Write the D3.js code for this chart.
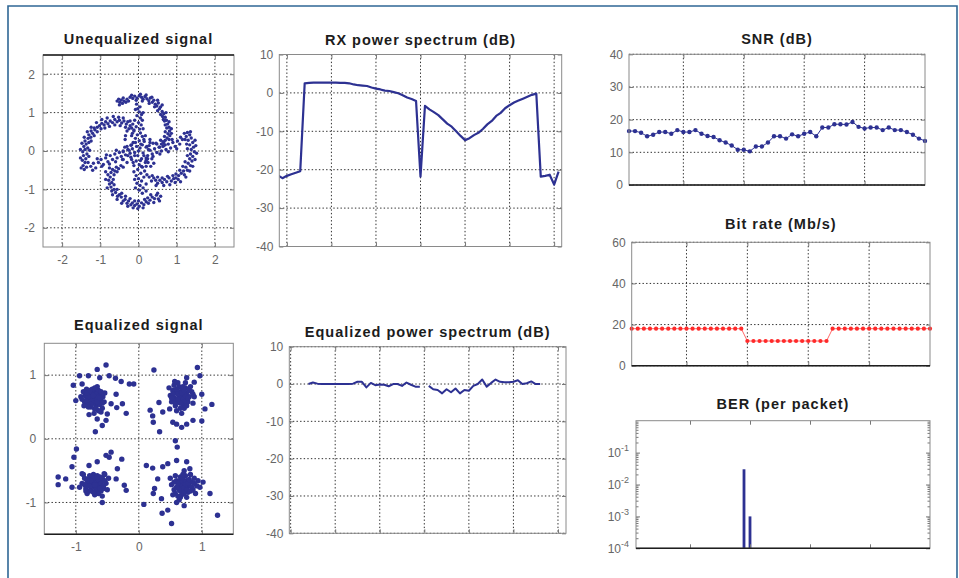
<!DOCTYPE html>
<html>
<head>
<meta charset="utf-8">
<script src="https://cdn.jsdelivr.net/npm/d3@7"></script>
<style>
  body { margin: 0; background: #fff; }
  svg { display: block; font-family: "Liberation Sans", Arial, sans-serif; }
</style>
</head>
<body>
<svg id="chart" width="959" height="578"></svg>
<script>
// ── data ──

// unequalized constellation (I, Q): four spiral arms + centre
const rawIQ = [
  // top arm
  [-0.56,1.30],[-0.52,1.35],[-0.49,1.27],[-0.45,1.33],[-0.42,1.24],[-0.38,1.30],[-0.33,1.27],[-0.30,1.35],
  [-0.22,1.40],[-0.15,1.37],[-0.10,1.43],[-0.04,1.38],[0.02,1.44],[0.08,1.40],[0.12,1.35],[0.17,1.42],
  [0.22,1.36],[0.27,1.31],[0.31,1.38],[0.36,1.27],[0.40,1.32],[0.44,1.22],[0.48,1.17],[0.52,1.25],
  [0.55,1.10],[0.58,1.15],[0.62,1.03],[0.66,0.97],[0.63,0.90],[0.70,0.88],[0.73,0.80],[0.68,0.78],
  [0.76,0.70],[0.80,0.62],[0.74,0.60],[0.81,0.52],[0.77,0.45],[0.82,0.40],[0.75,0.34],[0.70,0.28],
  [0.66,0.22],[0.60,0.18],[0.64,0.12],[0.55,0.10],
  [-0.50,1.20],[-0.40,1.38],[-0.26,1.30],[-0.18,1.45],[-0.06,1.32],[0.05,1.48],[0.10,1.30],[0.20,1.46],
  [0.28,1.24],[0.35,1.40],[0.42,1.15],[0.50,1.32],[0.50,1.05],[0.62,1.20],[0.58,0.95],[0.72,1.00],
  [0.65,0.82],[0.80,0.76],[0.70,0.68],[0.86,0.58],[0.70,0.50],[0.86,0.46],[0.68,0.38],[0.80,0.30],
  [0.58,0.28],[0.70,0.16],[0.48,0.18],
  [-0.05,1.22],[0.04,1.15],[-0.08,1.08],[0.02,1.02],[0.08,0.95],[-0.04,0.92],[0.05,0.86],[-0.10,0.80],
  [0.00,0.74],[0.07,0.68],[-0.06,0.63],[0.03,0.57],[-0.12,0.52],[0.05,0.47],[-0.03,0.42],[0.10,0.38],
  [-0.08,0.33],[0.02,0.27],[-0.14,0.22],[0.06,0.18],
  [-0.02,1.10],[0.12,1.00],[0.10,0.80],[-0.15,0.70],[0.12,0.58],[-0.18,0.40],[0.14,0.30],
  // left arm
  [-1.42,-0.48],[-1.36,-0.42],[-1.45,-0.38],[-1.40,-0.30],[-1.47,-0.24],[-1.38,-0.20],[-1.44,-0.12],[-1.35,-0.08],
  [-1.46,-0.02],[-1.40,0.04],[-1.33,0.08],[-1.43,0.12],[-1.37,0.18],[-1.30,0.22],[-1.40,0.26],[-1.32,0.33],
  [-1.25,0.36],[-1.30,0.42],[-1.20,0.46],[-1.24,0.52],[-1.14,0.55],[-1.08,0.62],[-1.16,0.60],[-1.02,0.66],
  [-0.96,0.72],[-0.90,0.68],[-0.86,0.76],[-0.80,0.71],[-0.74,0.78],[-0.68,0.74],[-0.62,0.82],[-0.56,0.76],
  [-0.50,0.80],[-0.44,0.73],[-0.38,0.78],[-0.32,0.70],[-0.28,0.76],[-0.22,0.66],[-0.18,0.60],[-0.25,0.58],
  [-0.12,0.55],[-0.16,0.46],
  [-1.50,-0.44],[-1.32,-0.30],[-1.52,-0.18],[-1.30,-0.14],[-1.52,0.04],[-1.28,0.02],[-1.48,0.20],[-1.24,0.26],
  [-1.42,0.36],[-1.16,0.40],[-1.34,0.50],[-1.08,0.50],[-1.24,0.62],[-0.98,0.58],[-1.10,0.74],[-0.88,0.60],
  [-0.96,0.82],[-0.76,0.64],[-0.82,0.86],[-0.62,0.68],[-0.66,0.90],[-0.48,0.66],[-0.52,0.88],[-0.34,0.62],
  [-0.40,0.86],[-0.22,0.78],[-0.30,0.52],
  [-1.25,-0.40],[-1.18,-0.32],[-1.12,-0.44],[-1.05,-0.30],[-0.98,-0.22],[-0.92,-0.35],[-0.86,-0.18],[-0.80,-0.28],
  [-0.74,-0.12],[-0.68,-0.22],[-0.62,-0.08],[-0.56,-0.18],[-0.50,-0.04],[-0.45,-0.14],[-0.40,0.00],[-0.34,-0.10],
  [-0.28,0.04],[-0.22,-0.06],[-0.16,0.06],[-0.10,-0.04],
  [-1.20,-0.50],[-1.08,-0.20],[-0.96,-0.40],[-0.84,-0.10],[-0.76,-0.34],[-0.60,-0.28],[-0.58,0.02],[-0.42,-0.22],
  [-0.36,0.10],[-0.20,-0.16],[-0.18,0.16],
  // bottom arm
  [0.58,-1.18],[0.52,-1.25],[0.47,-1.15],[0.42,-1.24],[0.36,-1.20],[0.30,-1.28],[0.24,-1.22],[0.20,-1.32],
  [0.14,-1.40],[0.08,-1.35],[0.02,-1.44],[-0.04,-1.38],[-0.10,-1.42],[-0.16,-1.35],[-0.20,-1.40],[-0.26,-1.30],
  [-0.30,-1.36],[-0.35,-1.26],[-0.40,-1.30],[-0.45,-1.20],[-0.50,-1.14],[-0.55,-1.18],[-0.60,-1.08],[-0.64,-1.00],
  [-0.70,-1.04],[-0.72,-0.94],[-0.76,-0.86],[-0.70,-0.82],[-0.78,-0.76],[-0.74,-0.68],[-0.80,-0.62],[-0.72,-0.56],
  [-0.68,-0.48],[-0.62,-0.52],[-0.58,-0.42],[-0.52,-0.46],[-0.46,-0.38],[-0.40,-0.42],
  [0.55,-1.30],[0.50,-1.10],[0.40,-1.34],[0.32,-1.14],[0.26,-1.36],[0.16,-1.26],[0.12,-1.48],[0.00,-1.30],
  [-0.02,-1.50],[-0.10,-1.30],[-0.14,-1.48],[-0.22,-1.24],[-0.28,-1.44],[-0.34,-1.18],[-0.44,-1.36],[-0.44,-1.10],
  [-0.56,-1.26],[-0.56,-1.00],[-0.68,-1.14],[-0.64,-0.88],[-0.82,-0.96],[-0.66,-0.74],[-0.86,-0.74],[-0.64,-0.62],
  [-0.86,-0.54],[-0.76,-0.44],[-0.56,-0.54],
  [0.10,-1.10],[0.02,-1.02],[0.12,-0.96],[0.04,-0.90],[-0.04,-0.84],[0.08,-0.78],[0.00,-0.72],[0.14,-0.68],
  [-0.06,-0.64],[0.06,-0.58],[0.16,-0.52],[-0.02,-0.48],[0.10,-0.42],[0.02,-0.36],[0.18,-0.30],[-0.06,-0.26],
  [0.08,-0.20],[0.14,-0.12],
  [0.20,-1.04],[-0.08,-0.96],[0.20,-0.86],[-0.10,-0.74],[0.22,-0.62],[-0.12,-0.54],[0.20,-0.40],[-0.12,-0.38],
  [0.24,-0.20],
  // right arm
  [1.28,0.48],[1.34,0.42],[1.25,0.38],[1.38,0.34],[1.30,0.28],[1.42,0.22],[1.34,0.16],[1.44,0.10],
  [1.38,0.04],[1.46,-0.02],[1.36,-0.08],[1.42,-0.14],[1.34,-0.20],[1.40,-0.26],[1.30,-0.32],[1.36,-0.38],
  [1.24,-0.42],[1.28,-0.50],[1.18,-0.52],[1.12,-0.58],[1.20,-0.62],[1.05,-0.64],[0.98,-0.70],[1.04,-0.74],
  [0.92,-0.72],[0.86,-0.78],[0.80,-0.70],[0.74,-0.80],[0.68,-0.74],[0.62,-0.82],[0.56,-0.76],[0.50,-0.84],
  [0.45,-0.76],[0.40,-0.70],[0.34,-0.78],[0.28,-0.68],
  [1.20,0.46],[1.36,0.50],[1.22,0.30],[1.48,0.28],[1.26,0.18],[1.50,0.14],[1.28,0.06],[1.52,-0.06],
  [1.28,-0.12],[1.48,-0.22],[1.22,-0.28],[1.42,-0.40],[1.16,-0.40],[1.34,-0.52],[1.08,-0.50],[1.24,-0.68],
  [0.98,-0.60],[1.10,-0.80],[0.90,-0.64],[0.96,-0.82],[0.76,-0.66],[0.82,-0.88],[0.62,-0.70],[0.66,-0.90],
  [0.50,-0.68],[0.46,-0.90],[0.36,-0.64],
  [1.15,0.30],[1.08,0.18],[1.02,0.26],[0.96,0.12],[0.90,0.22],[0.84,0.08],[0.78,0.18],[0.72,0.04],
  [0.66,0.14],[0.60,0.00],[0.54,0.10],[0.48,-0.04],[0.42,0.06],[0.36,-0.08],[0.30,0.02],[0.24,-0.12],
  [0.20,0.10],[0.28,0.14],
  [1.10,0.36],[1.00,0.06],[0.88,0.30],[0.78,-0.02],[0.64,0.24],[0.56,-0.08],[0.46,0.20],[0.38,-0.14],
  [0.30,0.22],[0.20,-0.18],
  // centre
  [-0.20,0.15],[0.15,0.25],[-0.30,-0.30],[0.25,-0.30],[0.00,0.00],[-0.05,0.12],[0.12,-0.05],[-0.18,-0.22],
  [0.30,0.30],[-0.35,0.30],[0.35,-0.20],[-0.25,0.02],[0.05,-0.25],[0.22,0.12],[-0.10,-0.12],[0.10,0.16],
  [-0.30,0.12],[0.18,0.40],[-0.40,-0.22],[0.32,-0.40],[-0.08,0.22],[0.20,-0.24],[-0.28,-0.12],[0.38,0.20],
  [-0.02,-0.12],[0.04,0.08],[-0.14,-0.30],[0.26,0.04],[-0.34,0.40],[0.40,-0.32],[-0.40,-0.02],[0.08,-0.40]
];

// equalized constellation (I, Q): four QPSK clusters
const eqIQ = [
  // upper left
  [-0.72,0.66],[-0.78,0.70],[-0.66,0.62],[-0.70,0.74],[-0.82,0.62],[-0.62,0.70],[-0.75,0.58],[-0.68,0.52],
  [-0.85,0.68],[-0.60,0.60],[-0.74,0.78],[-0.80,0.55],[-0.64,0.76],[-0.88,0.74],[-0.57,0.66],[-0.70,0.47],
  [-0.76,0.50],[-0.92,0.66],[-0.66,0.82],[-0.54,0.72],[-0.83,0.78],[-0.62,0.54],[-0.78,0.64],[-0.69,0.60],
  [-0.73,0.71],[-0.58,0.48],[-0.86,0.58],[-0.64,0.44],[-0.71,0.40],[-0.55,0.58],
  [-0.70,0.64],[-0.76,0.68],[-0.68,0.70],[-0.80,0.66],[-0.74,0.60],[-0.64,0.66],[-0.72,0.56],[-0.66,0.58],
  [-0.82,0.72],[-0.60,0.74],[-0.78,0.76],[-0.70,0.80],[-0.84,0.60],[-0.62,0.64],[-0.76,0.54],[-0.68,0.48],
  [-0.90,0.62],[-0.58,0.56],[-0.72,0.68],[-0.80,0.50],
  [-0.94,0.99],[-0.80,0.99],[-0.66,1.09],[-0.52,1.16],[-0.62,0.96],[-0.47,0.99],[-0.37,0.95],[-0.28,0.90],
  [-0.15,0.86],[-0.08,0.86],[-1.04,0.84],[-0.90,0.86],[-0.36,0.70],[-0.44,0.55],[-0.26,0.55],[-0.20,0.40],
  [-0.35,0.49],[-0.52,0.29],[-0.58,0.21],[-0.69,0.11],[-0.79,0.38],[-0.87,0.52],[-1.00,0.60],[-0.60,0.42],
  [-0.50,0.39],[-0.66,0.31],
  // upper right
  [0.66,0.68],[0.60,0.72],[0.72,0.64],[0.68,0.76],[0.56,0.64],[0.76,0.72],[0.62,0.58],[0.70,0.54],
  [0.80,0.66],[0.54,0.76],[0.74,0.80],[0.64,0.82],[0.84,0.74],[0.50,0.68],[0.78,0.58],[0.58,0.52],
  [0.66,0.62],[0.70,0.70],[0.88,0.66],[0.62,0.88],[0.72,0.48],[0.52,0.58],[0.82,0.82],[0.60,0.44],
  [0.68,0.40],[0.48,0.80],[0.86,0.56],[0.64,0.72],[0.56,0.84],[0.74,0.88],
  [0.64,0.66],[0.70,0.62],[0.62,0.70],[0.74,0.68],[0.58,0.62],[0.68,0.72],[0.72,0.58],[0.60,0.78],
  [0.78,0.64],[0.66,0.56],[0.54,0.70],[0.80,0.76],[0.70,0.82],[0.58,0.56],[0.76,0.52],[0.66,0.48],
  [0.86,0.70],[0.52,0.64],[0.62,0.62],[0.72,0.76],
  [0.24,1.08],[0.93,1.12],[0.97,0.99],[0.76,0.96],[0.57,0.90],[0.88,0.89],[1.00,0.70],[1.16,0.54],
  [1.05,0.47],[1.00,0.28],[0.86,0.29],[0.76,0.23],[0.68,0.18],[0.60,0.23],[0.54,0.26],[0.32,0.57],
  [0.18,0.45],[0.22,0.36],[0.23,0.26],[0.33,0.11],[0.38,0.42],[0.49,0.47],[0.58,-0.03],[0.61,-0.13],
  // lower left
  [-0.68,-0.68],[-0.74,-0.64],[-0.62,-0.72],[-0.70,-0.76],[-0.80,-0.70],[-0.58,-0.64],[-0.66,-0.58],[-0.76,-0.80],
  [-0.60,-0.82],[-0.86,-0.62],[-0.52,-0.70],[-0.72,-0.56],[-0.84,-0.78],[-0.64,-0.86],[-0.56,-0.78],[-0.90,-0.70],
  [-0.78,-0.58],[-0.48,-0.62],[-0.70,-0.88],[-0.62,-0.60],[-0.82,-0.86],[-0.54,-0.56],[-0.74,-0.72],[-0.66,-0.78],
  [-0.94,-0.76],[-0.58,-0.90],[-0.80,-0.64],[-0.50,-0.80],[-0.88,-0.56],[-0.64,-0.66],
  [-0.70,-0.66],[-0.66,-0.72],[-0.74,-0.70],[-0.64,-0.64],[-0.72,-0.62],[-0.60,-0.70],[-0.78,-0.74],[-0.68,-0.80],
  [-0.76,-0.66],[-0.56,-0.74],[-0.82,-0.66],[-0.62,-0.78],[-0.72,-0.84],[-0.58,-0.62],[-0.86,-0.72],[-0.66,-0.60],
  [-0.78,-0.82],[-0.54,-0.66],[-0.70,-0.72],[-0.84,-0.82],
  [-0.99,-0.16],[-1.03,-0.29],[-1.28,-0.60],[-1.28,-0.72],[-1.16,-0.63],[-1.06,-0.44],[-1.06,-0.76],[-0.44,-0.21],
  [-0.47,-0.29],[-0.52,-0.26],[-0.27,-0.32],[-0.34,-0.47],[-0.36,-0.63],[-0.23,-0.73],[-0.20,-0.81],[-0.58,-1.00],
  [-0.66,-0.36],[-0.79,-0.42],[-0.55,-0.55],[-0.90,-0.55],
  // lower right
  [0.70,-0.70],[0.64,-0.74],[0.76,-0.66],[0.72,-0.78],[0.60,-0.66],[0.80,-0.74],[0.66,-0.60],[0.74,-0.58],
  [0.84,-0.68],[0.56,-0.80],[0.78,-0.84],[0.68,-0.88],[0.88,-0.62],[0.52,-0.72],[0.62,-0.90],[0.82,-0.56],
  [0.70,-0.64],[0.66,-0.82],[0.92,-0.74],[0.58,-0.58],[0.76,-0.92],[0.86,-0.80],[0.54,-0.88],[0.64,-0.96],
  [0.72,-0.50],[0.90,-0.86],[0.60,-1.00],[0.74,-0.76],[0.94,-0.66],[0.50,-0.62],
  [0.68,-0.72],[0.72,-0.68],[0.66,-0.66],[0.74,-0.72],[0.62,-0.70],[0.78,-0.70],[0.70,-0.78],[0.64,-0.80],
  [0.80,-0.64],[0.68,-0.62],[0.76,-0.80],[0.60,-0.76],[0.84,-0.76],[0.72,-0.86],[0.58,-0.86],[0.82,-0.82],
  [0.66,-0.92],[0.88,-0.70],[0.56,-0.68],[0.70,-0.56],
  [0.12,-0.42],[0.22,-0.46],[0.38,-0.44],[0.30,-0.63],[0.25,-0.78],[0.23,-0.86],[0.36,-0.94],[0.08,-1.03],
  [0.37,-1.17],[0.46,-1.12],[0.52,-1.33],[0.72,-1.05],[1.13,-0.86],[1.25,-1.20],[0.97,-0.76],[0.46,-0.39],
  [0.60,-0.34],[0.76,-0.36],[0.81,-0.47],[1.02,-0.68]
];

// received power spectrum per subcarrier (dB)
const rxSubcarrier = [-32,-31,-30,-29,-28,-27,-26,-25,-24,-23,-22,-21,-20,-19,-18,-17,-16,-15,-14,-13,-12,-11,
  -10,-9,-8,-7,-6,-5,-4,-3,-2,-1,0,1,2,3,4,5,6,7,8,9,10,11,12,13,14,15,16,17,18,19,20,21,22,23,24,25,26,27,28,29,30,31];
const rxPowerDb = [-21.5,-22.2,-21.6,-21.2,-20.8,-20.4,
  2.5,2.6,2.7,2.7,2.7,2.7,2.7,2.7,2.6,2.6,2.5,2.2,2.0,1.9,1.8,1.4,1.1,0.9,0.6,0.5,0.2,-0.1,-0.6,-1.2,-1.6,-2.1,
  -21.8,
  -3.4,-4.3,-5.0,-5.8,-6.9,-8.0,-8.8,-10.0,-11.2,-12.3,-11.8,-11.0,-10.4,-9.4,-8.2,-7.3,-6.0,-5.2,-4.0,-3.2,
  -2.5,-2.0,-1.5,-1.0,-0.5,-0.2,
  -21.8,-21.6,-21.3,-23.9,-20.5];

// equalized power spectrum (dB); DC subcarrier is empty
const eqSubcarrier = [-26,-25,-24,-23,-22,-21,-20,-19,-18,-17,-16,-15,-14,-13,-12,-11,-10,-9,-8,-7,-6,-5,-4,-3,-2,-1,
  0,1,2,3,4,5,6,7,8,9,10,11,12,13,14,15,16,17,18,19,20,21,22,23,24,25,26];
const eqPowerDb = [0.0,0.4,0.1,0.0,0.0,0.0,0.0,0.0,0.0,0.0,0.1,0.6,0.6,-0.9,0.3,-0.3,-0.1,-0.2,-0.6,0.0,0.0,-0.5,0.4,-0.2,-0.7,-0.7,
  null,
  -0.5,-1.4,-1.6,-2.5,-1.4,-2.2,-1.2,-2.5,-1.6,-1.8,-0.5,0.0,1.2,-0.7,0.3,1.2,0.6,0.5,0.5,0.6,1.0,0.0,0.2,0.7,0.0,0.0];

// per packet
const packet = [1,2,3,4,5,6,7,8,9,10,11,12,13,14,15,16,17,18,19,20,21,22,23,24,25,
  26,27,28,29,30,31,32,33,34,35,36,37,38,39,40,41,42,43,44,45,46,47,48,49,50];
const snrDb = [16.5,16.5,16.0,14.9,15.4,16.2,16.2,15.7,16.8,16.2,16.2,16.8,15.7,15.0,14.7,13.7,13.0,12.1,10.8,10.8,
  10.3,11.8,11.8,13.0,14.9,14.9,14.2,15.5,14.9,15.7,16.2,14.9,17.6,17.6,18.6,18.6,18.5,19.3,17.8,17.3,
  17.6,17.6,16.8,17.6,16.8,16.8,16.2,15.4,14.2,13.5];
const bitRate = [18,18,18,18,18,18,18,18,18,18,18,18,18,18,18,18,18,18,18,
  12,12,12,12,12,12,12,12,12,12,12,12,12,12,
  18,18,18,18,18,18,18,18,18,18,18,18,18,18,18,18,18];
const berPacket = [19, 20];
const berValue = [0.03, 0.001];

// tick values
const iqTicksWide = [-2, -1, 0, 1, 2];
const iqTicksNarrow = [-1, 0, 1];
const dbTicks = [10, 0, -10, -20, -30, -40];
const subcarrierTicks = [-30, -20, -10, 0, 10, 20, 30];
const packetTicks = [10, 20, 30, 40];
const snrTicks = [0, 10, 20, 30, 40];
const rateTicks = [0, 20, 40, 60];
const berTicks = [1e-4, 1e-3, 1e-2, 1e-1];

// ── drawing ──
const BLUE = '#2d3192';
const svg = d3.select('#chart');

svg.append('rect').attr('width', 959).attr('height', 578).attr('fill', '#fff');
svg.append('path').attr('d', 'M8,578V6H957V578')
  .attr('fill', 'none').attr('stroke', '#2f6795').attr('stroke-width', 1.6);

let clipId = 0;

function makePanel(o) {
  const [l, t, r, b] = o.box;
  const x = d3.scaleLinear(o.xDomain, [l, r]);
  const y = (o.log ? d3.scaleLog() : d3.scaleLinear()).domain(o.yDomain).range([b, t]);
  const g = svg.append('g');

  g.append('rect').attr('x', l).attr('y', t).attr('width', r - l).attr('height', b - t).attr('fill', '#fff');

  if (o.grid) {
    const grid = g.append('g').attr('stroke', '#2e2e2e').attr('stroke-width', 1).attr('stroke-dasharray', '1.4,2.2');
    grid.selectAll('.gx').data(o.xTicks).join('line')
      .attr('x1', d => x(d)).attr('x2', d => x(d)).attr('y1', t).attr('y2', b);
    grid.selectAll('.gy').data(o.yTicks).join('line')
      .attr('y1', d => y(d)).attr('y2', d => y(d)).attr('x1', l).attr('x2', r);
  }

  const id = 'clip' + (clipId++);
  g.append('clipPath').attr('id', id).append('rect')
    .attr('x', l).attr('y', t).attr('width', r - l).attr('height', b - t);
  const data = g.append('g');
  const clipped = data.append('g').attr('clip-path', `url(#${id})`);

  const front = svg.append('g');
  const style = sel => {
    sel.select('.domain').remove();
    sel.selectAll('line').attr('stroke', '#777');
    sel.attr('font-family', null).attr('font-size', 12);
    sel.selectAll('text').attr('fill', '#666');
  };

  front.append('g').attr('transform', `translate(0,${b})`)
    .call(d3.axisBottom(x).tickValues(o.xTicks).tickSize(-4).tickPadding(o.xPad || 7)
      .tickFormat(o.xLabels ? d => String(d) : ''))
    .call(style);
  front.append('g').attr('transform', `translate(0,${t})`)
    .call(d3.axisTop(x).tickValues(o.xTicks).tickSize(-4).tickFormat(''))
    .call(style);

  const yLeft = front.append('g').attr('transform', `translate(${l},0)`)
    .call(d3.axisLeft(y).tickValues(o.yTicks).tickSize(-4).tickPadding(o.yPad || 6)
      .tickFormat(o.log ? '' : d => String(d)))
    .call(style);
  front.append('g').attr('transform', `translate(${r},0)`)
    .call(d3.axisRight(y).tickValues(o.yTicks).tickSize(-4).tickFormat(''))
    .call(style);

  if (o.log) {
    yLeft.selectAll('.tick text').each(function (d) {
      const s = d3.select(this);
      s.text('10');
      s.append('tspan').attr('dy', -6).attr('font-size', 9).text(Math.round(Math.log10(d)));
    });
    const minor = y.ticks().filter(v => !berTicks.includes(v) && v < 1);
    [[l, 1], [r, -1]].forEach(([ax, k]) => {
      front.append('g').selectAll('line').data(minor).join('line')
        .attr('x1', ax).attr('x2', ax + k * 2.5)
        .attr('y1', d => y(d)).attr('y2', d => y(d))
        .attr('stroke', '#777');
    });
  }

  front.append('rect').attr('x', l).attr('y', t).attr('width', r - l).attr('height', b - t)
    .attr('fill', 'none').attr('stroke', '#8a8a8a').attr('stroke-width', 1);
  if (o.darkEdge) {
    const ey = o.darkEdge === 'top' ? t : b;
    front.append('line').attr('x1', l).attr('x2', r).attr('y1', ey).attr('y2', ey)
      .attr('stroke', '#1e1e1e').attr('stroke-width', 1.4);
  }

  svg.append('text')
    .attr('x', (l + r) / 2).attr('y', o.titleY)
    .attr('text-anchor', 'middle')
    .attr('font-size', 14.5).attr('font-weight', 'bold').attr('letter-spacing', '1px')
    .attr('fill', '#1c1c1c')
    .text(o.title);

  return { x, y, data, clipped };
}

// Unequalized signal
{
  const p = makePanel({
    box: [43, 55, 234, 247], xDomain: [-2.5, 2.5], yDomain: [-2.5, 2.5],
    xTicks: iqTicksWide, yTicks: iqTicksWide, grid: true, xLabels: true, yPad: 8, xPad: 8,
    title: 'Unequalized signal', titleY: 44, darkEdge: 'top'
  });
  p.clipped.selectAll('circle').data(rawIQ).join('circle')
    .attr('cx', d => p.x(d[0])).attr('cy', d => p.y(d[1])).attr('r', 1.7).attr('fill', BLUE);
}

// Equalized signal
{
  const p = makePanel({
    box: [44.3, 343.3, 233.3, 534.3], xDomain: [-1.5, 1.5], yDomain: [-1.5, 1.5],
    xTicks: iqTicksNarrow, yTicks: iqTicksNarrow, grid: true, xLabels: true, yPad: 8, xPad: 8,
    title: 'Equalized signal', titleY: 330, darkEdge: 'bottom'
  });
  p.clipped.selectAll('circle').data(eqIQ).join('circle')
    .attr('cx', d => p.x(d[0])).attr('cy', d => p.y(d[1])).attr('r', 2.7).attr('fill', BLUE);
}

// RX power spectrum
{
  const p = makePanel({
    box: [279.3, 54.5, 561.7, 246.5], xDomain: [-31.7, 31.7], yDomain: [-40, 10],
    xTicks: subcarrierTicks, yTicks: dbTicks, grid: true,
    title: 'RX power spectrum (dB)', titleY: 45
  });
  const line = d3.line().x((d, i) => p.x(rxSubcarrier[i])).y(d => p.y(d));
  p.clipped.append('path').attr('d', line(rxPowerDb))
    .attr('fill', 'none').attr('stroke', BLUE).attr('stroke-width', 2.2).attr('stroke-linejoin', 'round');
}

// Equalized power spectrum
{
  const p = makePanel({
    box: [289.3, 346.7, 566, 533.3], xDomain: [-30.3, 31.8], yDomain: [-40, 10],
    xTicks: subcarrierTicks, yTicks: dbTicks, grid: true,
    title: 'Equalized power spectrum (dB)', titleY: 337
  });
  const line = d3.line().defined(d => d !== null)
    .x((d, i) => p.x(eqSubcarrier[i])).y(d => p.y(d));
  p.clipped.append('path').attr('d', line(eqPowerDb))
    .attr('fill', 'none').attr('stroke', BLUE).attr('stroke-width', 2).attr('stroke-linejoin', 'round');
}

// SNR
{
  const p = makePanel({
    box: [629, 54.3, 925, 185], xDomain: [1, 50], yDomain: [0, 40],
    xTicks: packetTicks, yTicks: snrTicks, grid: true,
    title: 'SNR (dB)', titleY: 43.5, darkEdge: 'bottom'
  });
  const line = d3.line().x((d, i) => p.x(packet[i])).y(d => p.y(d));
  p.data.append('path').attr('d', line(snrDb))
    .attr('fill', 'none').attr('stroke', BLUE).attr('stroke-width', 1);
  p.data.selectAll('circle').data(snrDb).join('circle')
    .attr('cx', (d, i) => p.x(packet[i])).attr('cy', d => p.y(d)).attr('r', 2.2).attr('fill', BLUE);
}

// Bit rate
{
  const p = makePanel({
    box: [631.7, 242.3, 930, 365.7], xDomain: [1, 50], yDomain: [0, 60],
    xTicks: packetTicks, yTicks: rateTicks, grid: true,
    title: 'Bit rate (Mb/s)', titleY: 228.5, darkEdge: 'bottom'
  });
  const line = d3.line().x((d, i) => p.x(packet[i])).y(d => p.y(d));
  p.data.append('path').attr('d', line(bitRate))
    .attr('fill', 'none').attr('stroke', '#ff6a6a').attr('stroke-width', 1);
  p.data.selectAll('circle').data(bitRate).join('circle')
    .attr('cx', (d, i) => p.x(packet[i])).attr('cy', d => p.y(d)).attr('r', 2.1).attr('fill', '#ff2a2a');
}

// BER
{
  const p = makePanel({
    box: [636, 420.7, 930, 548.3], xDomain: [1, 50], yDomain: [1e-4, 1], log: true,
    xTicks: packetTicks, yTicks: berTicks, grid: false, yPad: 7,
    title: 'BER (per packet)', titleY: 408.5, darkEdge: 'bottom'
  });
  p.clipped.selectAll('rect').data(berValue).join('rect')
    .attr('x', (d, i) => p.x(berPacket[i]) - 1.4).attr('width', 2.8)
    .attr('y', d => p.y(d)).attr('height', d => p.y(1e-4) - p.y(d))
    .attr('fill', BLUE);
}
</script>
</body>
</html>
